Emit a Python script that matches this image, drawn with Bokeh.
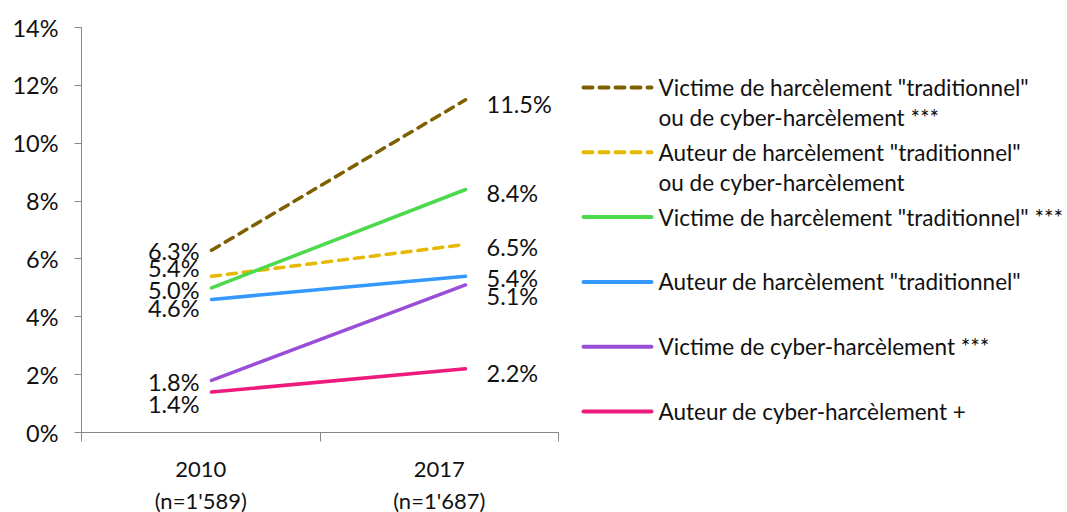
from bokeh.plotting import figure
from bokeh.layouts import row
from bokeh.models import (Range1d, LinearAxis, FixedTicker, PrintfTickFormatter,
                          ColumnDataSource)
from bokeh.core.properties import value
from bokeh.embed import file_html
from bokeh.resources import INLINE

# ---------------- data ----------------
categories = ["2010\n(n=1'589)", "2017\n(n=1'687)"]
series_names = [
    "Victime de harcèlement \"traditionnel\"\nou de cyber-harcèlement ***",
    "Auteur de harcèlement \"traditionnel\"\nou de cyber-harcèlement",
    "Victime de harcèlement \"traditionnel\" ***",
    "Auteur de harcèlement \"traditionnel\"",
    "Victime de cyber-harcèlement ***",
    "Auteur de cyber-harcèlement +",
]
values_2010 = [6.3, 5.4, 5.0, 4.6, 1.8, 1.4]
values_2017 = [11.5, 6.5, 8.4, 5.4, 5.1, 2.2]
y_ticks = [0, 2, 4, 6, 8, 10, 12, 14]

# ---------------- styles ----------------
colors = ["#7F6000", "#E6B800", "#4CD94C", "#3399FF", "#9A4DD6", "#EE1A7C"]
dashes = ["9 7", "9 7", "solid", "solid", "solid", "solid"]
# pixel nudges of the value labels (to avoid overlaps, as in the original)
left_label_dy = [1, -8, 2, 9, 2, 12]
right_label_dy = [4, 3, 3, 2, 11, 4]

FONT = "Lato"
TXT = "#111111"
AX = "#868686"
FS = "23.5px"

TOP, FH, BOT = 27, 405, 80
W1 = 568
p = figure(width=W1, height=TOP + FH + BOT, output_backend="svg",
           toolbar_location=None,
           x_range=Range1d(0, 2), y_range=Range1d(0, 14),
           frame_width=477, frame_height=FH,
           min_border_left=81, min_border_right=10, min_border_top=TOP,
           min_border_bottom=BOT, x_axis_type=None, y_axis_type=None)
p.outline_line_color = None
p.xgrid.visible = False
p.ygrid.visible = False
p.background_fill_color = "white"
p.border_fill_color = "white"

# range used by the lines
p.extra_x_ranges = {"lines": Range1d(-0.012, 1.866)}
x_pos = [0.5, 1.5]

yax = LinearAxis(ticker=FixedTicker(ticks=y_ticks),
                 formatter=PrintfTickFormatter(format="%d%%"))
yax.axis_line_color = AX
yax.major_tick_line_color = AX
yax.major_tick_out = 7
yax.major_tick_in = 0
yax.minor_tick_line_color = None
yax.major_label_text_font = FONT
yax.major_label_text_font_size = FS
yax.major_label_text_color = TXT
yax.major_label_standoff = 16
p.add_layout(yax, "left")

xax = LinearAxis(ticker=FixedTicker(ticks=[0.5, 1.5], minor_ticks=[0, 1, 2]))
xax.major_label_overrides = {0.5: categories[0], 1.5: categories[1]}
xax.axis_line_color = AX
xax.major_tick_line_color = None
xax.major_tick_out = 0
xax.major_tick_in = 0
xax.minor_tick_line_color = AX
xax.minor_tick_out = 9
xax.minor_tick_in = 0
xax.major_label_text_font = FONT
xax.major_label_text_font_size = "22px"
xax.major_label_text_color = TXT
xax.major_label_standoff = 13
p.add_layout(xax, "below")

for i in range(len(series_names)):
    src = ColumnDataSource(dict(x=x_pos, y=[values_2010[i], values_2017[i]]))
    p.line("x", "y", source=src, x_range_name="lines", line_color=colors[i],
           line_width=3.5, line_dash=dashes[i], line_cap="round")

lsrc = ColumnDataSource(dict(x=[x_pos[0]] * 6, y=values_2010,
                             t=["%.1f%%" % v for v in values_2010],
                             dy=left_label_dy))
p.text("x", "y", text="t", source=lsrc, x_range_name="lines",
       text_align="right", text_baseline="middle", x_offset=-12,
       y_offset="dy", text_font=value(FONT), text_font_size=FS,
       text_color=TXT)
rsrc = ColumnDataSource(dict(x=[x_pos[1]] * 6, y=values_2017,
                             t=["%.1f%%" % v for v in values_2017],
                             dy=right_label_dy))
p.text("x", "y", text="t", source=rsrc, x_range_name="lines",
       text_align="left", text_baseline="middle", x_offset=21,
       y_offset="dy", text_font=value(FONT), text_font_size=FS,
       text_color=TXT)

# ---------------- legend panel (units = page pixels) ----------------
W2 = 1067 - W1
lg = figure(width=W2, height=TOP + FH + BOT, output_backend="svg",
            toolbar_location=None,
            x_range=Range1d(W1, W1 + W2), y_range=Range1d(TOP + FH, TOP),
            frame_width=W2, frame_height=FH,
            min_border_left=0, min_border_right=0, min_border_top=TOP,
            min_border_bottom=BOT, x_axis_type=None, y_axis_type=None)
lg.outline_line_color = None
lg.xgrid.visible = False
lg.ygrid.visible = False
lg.border_fill_color = "white"
lg.background_fill_color = "white"

top, step, line_gap = 87, 64.8, 30
for i, name in enumerate(series_names):
    yy = top + i * step
    lg.segment(x0=[583], y0=[yy], x1=[651], y1=[yy], line_color=colors[i],
               line_width=4, line_dash=dashes[i], line_cap="round")
    for j, part in enumerate(name.split("\n")):
        lg.text(x=[658], y=[yy + j * line_gap], text=[part], text_align="left",
                text_baseline="middle", text_font=value(FONT),
                text_font_size="22.5px", text_color=TXT)

layout = row(p, lg)
open("out.html", "w").write(file_html(layout, INLINE))
